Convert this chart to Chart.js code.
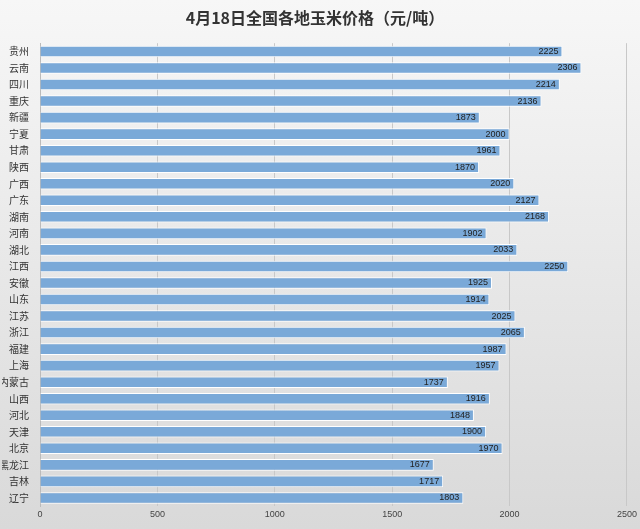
<!DOCTYPE html>
<html><head><meta charset="utf-8">
<script src="https://cdn.jsdelivr.net/npm/chart.js@4"></script>
<style>html,body{margin:0;padding:0;}#w{width:640px;height:529px;}</style>
</head><body><div id="w"><canvas id="c"></canvas></div>
<script>
const provinces=["贵州","云南","四川","重庆","新疆","宁夏","甘肃","陕西","广西","广东","湖南","河南","湖北","江西","安徽","山东","江苏","浙江","福建","上海","内蒙古","山西","河北","天津","北京","黑龙江","吉林","辽宁"];
const prices=[2225,2306,2214,2136,1873,2000,1961,1870,2020,2127,2168,1902,2033,2250,1925,1914,2025,2065,1987,1957,1737,1916,1848,1900,1970,1677,1717,1803];
const titleText="4月18日全国各地玉米价格（元/吨）";
const bg={id:'bg',beforeDraw(ch){const c=ch.ctx;const g=c.createLinearGradient(0,0,0,ch.height);g.addColorStop(0,'#f7f7f7');g.addColorStop(1,'#d9d9d9');c.save();c.fillStyle=g;c.fillRect(0,0,ch.width,ch.height);c.restore();}};
const lbl={id:'lbl',afterDatasetsDraw(ch){const c=ch.ctx;c.save();c.font='9px "Liberation Sans", Arial';c.fillStyle='#222';c.textAlign='right';c.textBaseline='middle';ch.getDatasetMeta(0).data.forEach((b,i)=>{c.fillText(prices[i],b.x-4,b.y);});c.restore();}};
new Chart(document.getElementById('c'),{type:'bar',
data:{labels:provinces,datasets:[{data:prices,backgroundColor:'#7aa9d8',borderColor:'#ffffff',borderWidth:1,barPercentage:0.7,categoryPercentage:1}]},
options:{indexAxis:'y',responsive:true,maintainAspectRatio:false,animation:false,
layout:{padding:{left:2,right:12,top:4,bottom:6}},
plugins:{legend:{display:false},tooltip:{enabled:false},
title:{display:true,text:titleText,color:'#333',font:{family:'"Noto Sans CJK SC"',size:16,weight:'bold'},padding:{top:4,bottom:16}}},
scales:{x:{min:0,max:2500,ticks:{stepSize:500,color:'#444',font:{size:9},callback:v=>String(v)},grid:{color:'#c8c8c8',drawTicks:false},border:{display:false}},
y:{afterFit(a){a.width=38;},ticks:{color:'#333',font:{family:'"Noto Sans CJK SC"',size:10}},grid:{display:false},border:{color:'#bbb'}}}},
plugins:[bg,lbl]});
</script></body></html>
